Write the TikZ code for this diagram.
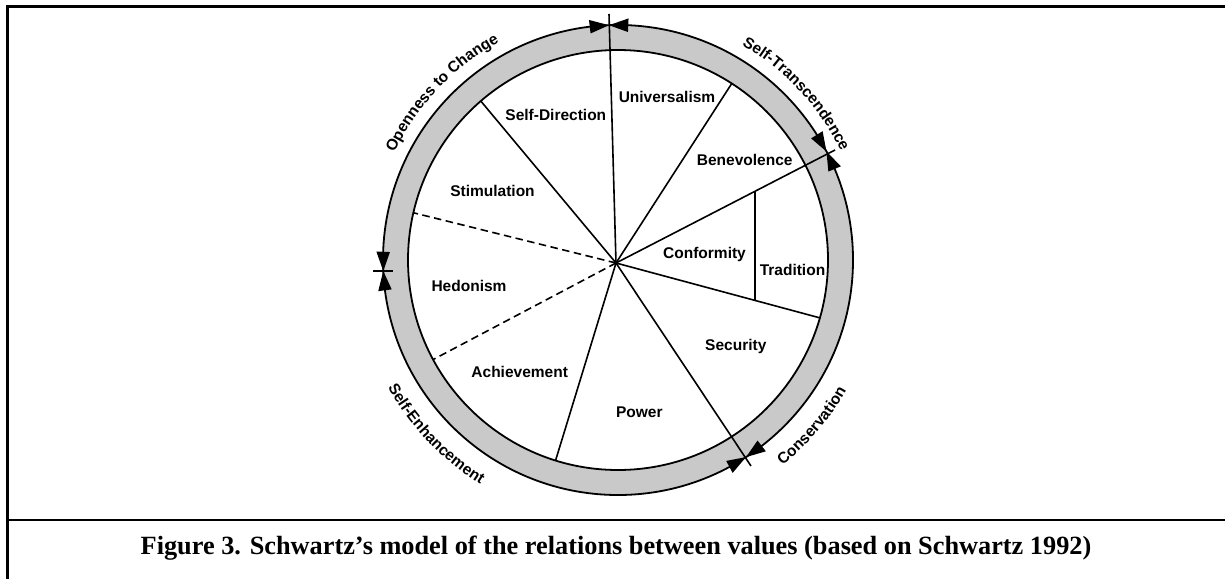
\documentclass[tikz,border=0pt]{standalone}
\usepackage{fontspec}
\newfontfamily\lblfam{Liberation Sans}
\newfontfamily\capfam{Liberation Serif}
\usetikzlibrary{calc,decorations.text}
\newcommand\curvefont{\lblfam\bfseries\fontsize{15.5}{18}\selectfont}
\definecolor{bandgray}{gray}{0.79}
\tikzset{
  frameline/.style={line width=2.4pt, line cap=rect},
  circline/.style={line width=1.8pt},
  spoke/.style={line width=1.6pt},
  dspoke/.style={spoke, dash pattern=on 7.5pt off 4.5pt},
  tickline/.style={line width=1.6pt},
  lbl/.style={font=\lblfam\bfseries\fontsize{15.5}{18}\selectfont, anchor=base, inner sep=0pt},
  captionstyle/.style={font=\capfam\bfseries\fontsize{26.3}{30}\selectfont, anchor=base, inner sep=0pt},
  arrowtri/.style={fill=black},
  curvelbl/.style={decorate, decoration={text along path, text align=center, text={|\curvefont|#1}}}
}
\begin{document}
\begin{tikzpicture}[x=1pt,y=1pt]
\useasboundingbox (0,0) rectangle (1225,-578);
% frame
\coordinate (fTL) at (7.3,-6.5);
\coordinate (fTR) at (1225,-6.5);
\coordinate (fBL) at (7.3,-578);
\coordinate (fML) at (7.3,-520);
\coordinate (fMR) at (1225,-520);
\draw[frameline] (fBL) -- (fTL) -- (fTR);
\draw[frameline] (fML) -- (fMR);

% circle geometry
\coordinate (C) at (618,-260);
\coordinate (H) at (616,-263);
\fill[bandgray, even odd rule] (C) circle[radius=235] (C) circle[radius=210];
\draw[circline] (C) circle[radius=235];
\draw[circline] (C) circle[radius=210];

% spoke end points
\coordinate (eTop) at (609,-14);
\coordinate (eSD) at ($(C)+(130.8:210)$);
\coordinate (eUB) at ($(C)+(57.2:210)$);
\coordinate (eBC) at (835,-150);
\coordinate (eSH) at ($(C)+(167.0:210)$);
\coordinate (eHA) at ($(C)+(208.3:210)$);
\coordinate (eAP) at ($(C)+(-107.3:210)$);
\coordinate (ePS) at (751,-466);
\coordinate (eST) at ($(C)+(-16.0:210)$);
\coordinate (vT) at (755,-191);
\coordinate (vB) at (755,-300);
\coordinate (tL1) at (373,-271);
\coordinate (tL2) at (393,-271);

\draw[spoke] (H) -- (eTop);
\draw[spoke] (H) -- (eSD);
\draw[spoke] (H) -- (eUB);
\draw[spoke] (H) -- (eBC);
\draw[dspoke] (H) -- (eSH);
\draw[dspoke] (H) -- (eHA);
\draw[spoke] (H) -- (eAP);
\draw[spoke] (H) -- (ePS);
\draw[spoke] (H) -- (eST);
\draw[spoke] (vT) -- (vB);
\draw[tickline] (tL1) -- (tL2);

% boundary arrowheads
\foreach \a in {92.2, 27.5, -57, 182.7}{
  \fill[arrowtri] ($(C)+(\a:235)$) -- ($(C)+({\a+4.7}:241.8)$) -- ($(C)+({\a+4.7}:228.2)$) -- cycle;
  \fill[arrowtri] ($(C)+(\a:235)$) -- ($(C)+({\a-4.7}:241.8)$) -- ($(C)+({\a-4.7}:228.2)$) -- cycle;
}

% value labels
\node[lbl] (univ) at (667,-102.7) {Universalism};
\node[lbl] (sdir) at (555.8,-120) {Self-Direction};
\node[lbl] (benev) at (744.7,-165.7) {Benevolence};
\node[lbl] (stim) at (492.5,-196.7) {Stimulation};
\node[lbl] (conf) at (704.5,-258.3) {Conformity};
\node[lbl] (trad) at (792.5,-275) {Tradition};
\node[lbl] (hedo) at (469,-291) {Hedonism};
\node[lbl] (secu) at (735.8,-350.7) {Security};
\node[lbl] (achi) at (519.7,-377.7) {Achievement};
\node[lbl] (powe) at (639.3,-417.7) {Power};

% higher order labels along the ring
\path[curvelbl={Openness to Change}] ($(C)+(170:248)$) arc[start angle=170, end angle=103, radius=248];
\path[curvelbl={Self-Transcendence}] ($(C)+(76:248)$) arc[start angle=76, end angle=10, radius=248];
\path[curvelbl={Self-Enhancement}] ($(C)+(190:263)$) arc[start angle=190, end angle=257.4, radius=263];
\path[curvelbl={Conservation}] ($(C)+(-74:263)$) arc[start angle=-74, end angle=-7, radius=263];

% caption
\node[captionstyle] (caption) at (616,-554) {Figure 3. Schwartz’s model of the relations between values (based on Schwartz 1992)};
\end{tikzpicture}
\end{document}
